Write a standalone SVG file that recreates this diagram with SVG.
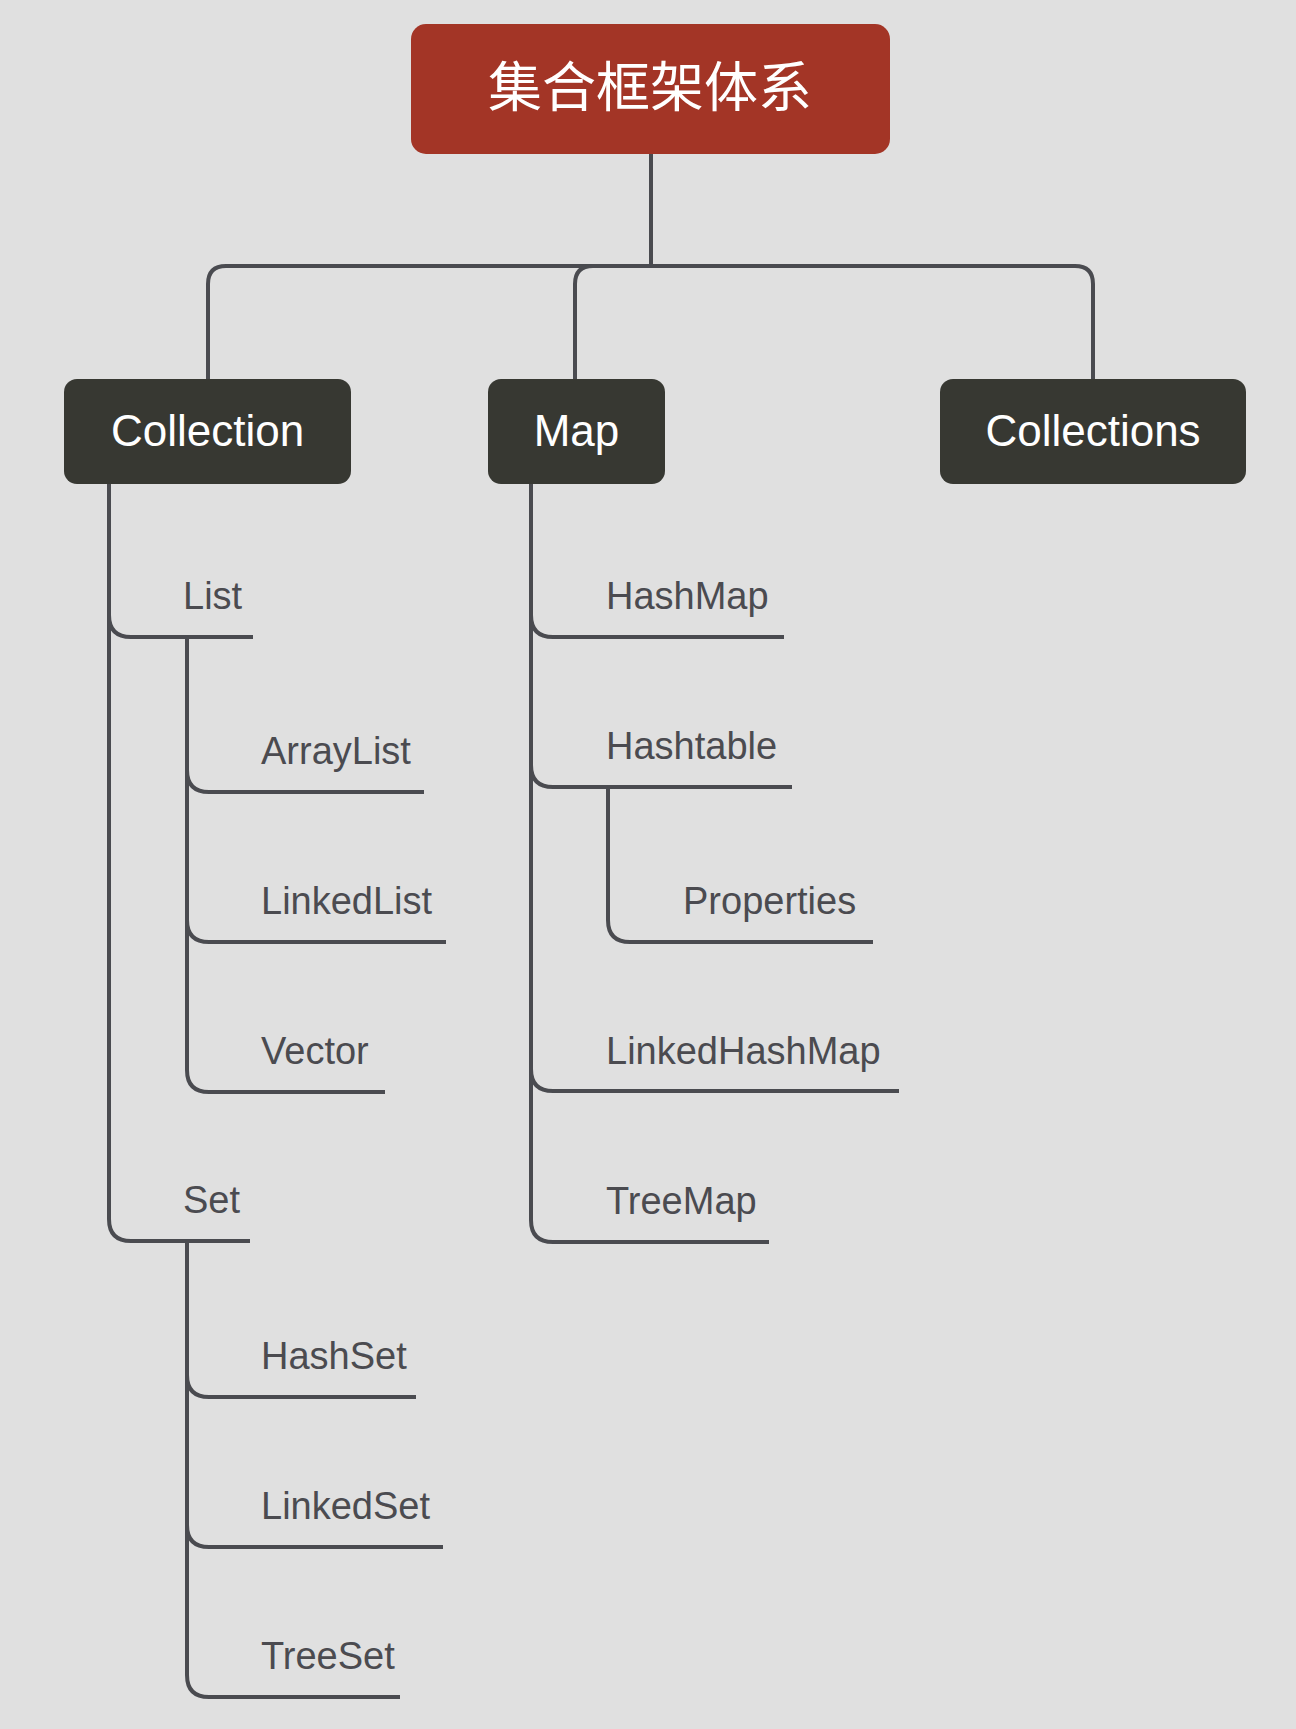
<svg xmlns="http://www.w3.org/2000/svg" width="1296" height="1729" viewBox="0 0 1296 1729">
<style>
.bg{fill:#E0E0E0}
.conn{fill:none;stroke:#4A4B50;stroke-width:4;stroke-linejoin:round}
.root{fill:#A33526}
.main{fill:#373832}
.rt{font-family:"Noto Sans CJK SC","Noto Sans",sans-serif;font-size:54px;fill:#FFFFFF;text-anchor:middle}
.mt{font-family:"Liberation Sans","Noto Sans",sans-serif;font-size:44px;fill:#FFFFFF;text-anchor:middle}
.lt{font-family:"Liberation Sans","Noto Sans",sans-serif;font-size:38px;fill:#4B4B50}
</style>
<rect class="bg" x="0" y="0" width="1296" height="1729"/>
<g id="connectors">
<path class="conn" d="M651,154 V266 H226 Q208,266 208,284 V379"/>
<path class="conn" d="M651,266 H593 Q575,266 575,284 V379"/>
<path class="conn" d="M651,266 H1075 Q1093,266 1093,284 V379"/>
<path class="conn" d="M109,484 V615 Q109,637 131,637 H253"/>
<path class="conn" d="M109,484 V1219 Q109,1241 131,1241 H250"/>
<path class="conn" d="M187,637 V770 Q187,792 209,792 H424"/>
<path class="conn" d="M187,637 V920 Q187,942 209,942 H446"/>
<path class="conn" d="M187,637 V1070 Q187,1092 209,1092 H385"/>
<path class="conn" d="M187,1241 V1375 Q187,1397 209,1397 H416"/>
<path class="conn" d="M187,1241 V1525 Q187,1547 209,1547 H443"/>
<path class="conn" d="M187,1241 V1675 Q187,1697 209,1697 H400"/>
<path class="conn" d="M531,484 V615 Q531,637 553,637 H784"/>
<path class="conn" d="M531,484 V765 Q531,787 553,787 H792"/>
<path class="conn" d="M608,787 V920 Q608,942 630,942 H873"/>
<path class="conn" d="M531,484 V1069 Q531,1091 553,1091 H899"/>
<path class="conn" d="M531,484 V1220 Q531,1242 553,1242 H769"/>
</g>
<g id="root"><rect class="root" x="411" y="24" width="479" height="130" rx="15"/><text class="rt" x="650" y="107">集合框架体系</text></g>
<g id="collection"><rect class="main" x="64" y="379" width="287" height="105" rx="13"/><text class="mt" x="207.5" y="446">Collection</text></g>
<g id="map"><rect class="main" x="488" y="379" width="177" height="105" rx="13"/><text class="mt" x="576.5" y="446">Map</text></g>
<g id="collections"><rect class="main" x="940" y="379" width="306" height="105" rx="13"/><text class="mt" x="1093" y="446">Collections</text></g>
<g id="list"><text class="lt" x="183" y="609">List</text></g>
<g id="arraylist"><text class="lt" x="261" y="764">ArrayList</text></g>
<g id="linkedlist"><text class="lt" x="261" y="914">LinkedList</text></g>
<g id="vector"><text class="lt" x="261" y="1064">Vector</text></g>
<g id="set"><text class="lt" x="183" y="1213">Set</text></g>
<g id="hashset"><text class="lt" x="261" y="1369">HashSet</text></g>
<g id="linkedset"><text class="lt" x="261" y="1519">LinkedSet</text></g>
<g id="treeset"><text class="lt" x="261" y="1669">TreeSet</text></g>
<g id="hashmap"><text class="lt" x="606" y="609">HashMap</text></g>
<g id="hashtable"><text class="lt" x="606" y="759">Hashtable</text></g>
<g id="properties"><text class="lt" x="683" y="914">Properties</text></g>
<g id="linkedhashmap"><text class="lt" x="606" y="1064">LinkedHashMap</text></g>
<g id="treemap"><text class="lt" x="606" y="1214">TreeMap</text></g>
</svg>
